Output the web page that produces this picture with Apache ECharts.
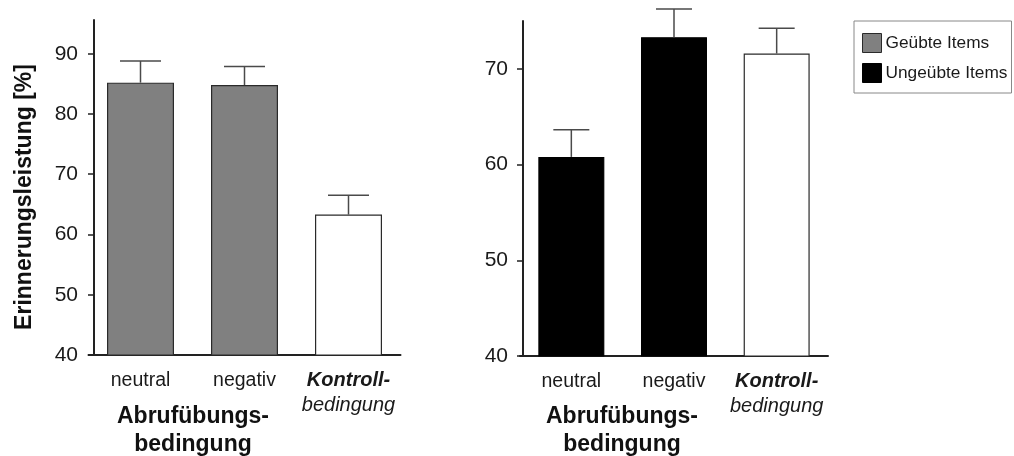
<!DOCTYPE html>
<html>
<head>
<meta charset="utf-8">
<script src="https://cdn.jsdelivr.net/npm/echarts@6/dist/echarts.min.js"></script>
<style>
  html, body { margin: 0; padding: 0; background: #fff; }
  #chart { width: 1014px; height: 456px; }
</style>
</head>
<body>
<div id="chart"></div>
<script>
// Recall performance (%) by retrieval-practice condition
const categories = ['neutral', 'negativ', 'Kontroll-\nbedingung'];

// Practiced items (left panel)
const practicedMeans = [85.2, 84.8, 63.3];
const practicedErr = [3.6, 3.1, 3.2];

// Unpracticed items (right panel)
const unpracticedMeans = [60.8, 73.3, 71.6];
const unpracticedErr = [2.85, 2.95, 2.65];

const leftTicks = [40, 50, 60, 70, 80, 90];
const rightTicks = [40, 50, 60, 70];

const GREY = '#808080';
const BLACK = '#000000';
const WHITE = '#ffffff';
const FONT = '"Liberation Sans", Arial, sans-serif';
const TEXT = '#1a1a1a';

// the control condition is drawn as a white bar in both panels
function barItems(values, color, border) {
  return values.map((v, i) => ({
    value: v,
    itemStyle: i === 2 ? { color: WHITE, borderColor: '#2a2a2a' } : { color, borderColor: border }
  }));
}

function errorItems(values, errs) {
  return values.map((v, i) => [i, v, v + errs[i]]);
}

function errorRenderer(capWidth) {
  return function (params, api) {
    const base = api.coord([api.value(0), api.value(1)]);
    const top = api.coord([api.value(0), api.value(2)]);
    const style = { stroke: '#4a4a4a', lineWidth: 1.5 };
    return {
      type: 'group',
      children: [
        { type: 'line', shape: { x1: base[0], y1: base[1], x2: top[0], y2: top[1] }, style },
        { type: 'line', shape: { x1: top[0] - capWidth / 2, y1: top[1], x2: top[0] + capWidth / 2, y2: top[1] }, style }
      ]
    };
  };
}

const catLabel = {
  interval: 0,
  fontFamily: FONT,
  fontSize: 19.5,
  color: TEXT,
  margin: 13,
  lineHeight: 25,
  verticalAlign: 'top',
  formatter: function (v) {
    if (v.indexOf('Kontroll') === 0) {
      return '{k|Kontroll-}\n{b|bedingung}';
    }
    return v;
  },
  rich: {
    k: { fontFamily: FONT, fontSize: 20, fontStyle: 'italic', fontWeight: 'bold', color: TEXT, lineHeight: 25 },
    b: { fontFamily: FONT, fontSize: 20, fontStyle: 'italic', color: TEXT, lineHeight: 25 }
  }
};

const axisLineStyle = { lineStyle: { color: '#222', width: 2 } };

function yAxisCfg(gridIndex, max, ticks, offset, margin) {
  return {
    type: 'value',
    gridIndex,
    min: 40,
    max,
    offset,
    splitLine: { show: false },
    axisLine: { show: true, ...axisLineStyle },
    axisTick: { show: true, length: 6, customValues: ticks, lineStyle: { color: '#222', width: 1.5 } },
    axisLabel: { customValues: ticks, fontFamily: FONT, fontSize: 21, color: TEXT, margin }
  };
}

function xAxisCfg(gridIndex) {
  return {
    type: 'category',
    gridIndex,
    data: categories,
    axisLine: { show: true, ...axisLineStyle },
    axisTick: { show: false },
    axisLabel: catLabel
  };
}

const boldName = { fontFamily: FONT, fontSize: 23, fontWeight: 'bold', fill: '#111' };

const option = {
  backgroundColor: '#fff',
  animation: false,
  grid: [
    { left: 88.5, top: 20, width: 312, height: 335 },
    { left: 520, top: 21, width: 308, height: 335 }
  ],
  xAxis: [xAxisCfg(0), xAxisCfg(1)],
  yAxis: [
    yAxisCfg(0, 95.6, leftTicks, -5.5, 16),
    yAxisCfg(1, 75, rightTicks, -3, 15)
  ],
  legend: {
    data: ['Geübte Items', 'Ungeübte Items'],
    orient: 'vertical',
    left: 854,
    top: 21,
    padding: [12, 4, 10, 8],
    itemGap: 10,
    itemWidth: 19,
    itemHeight: 19,
    itemStyle: { borderWidth: 1 },
    borderColor: '#888',
    borderWidth: 1,
    icon: 'rect',
    textStyle: { fontFamily: FONT, fontSize: 17.3, color: TEXT, padding: [0, 0, 0, -1] }
  },
  series: [
    {
      name: 'Geübte Items',
      type: 'bar',
      xAxisIndex: 0,
      yAxisIndex: 0,
      barWidth: 67,
      itemStyle: { color: GREY, borderColor: '#2a2a2a', borderWidth: 1.2 },
      data: barItems(practicedMeans, GREY, '#2a2a2a')
    },
    {
      name: 'Ungeübte Items',
      type: 'bar',
      xAxisIndex: 1,
      yAxisIndex: 1,
      barWidth: 66,
      itemStyle: { color: BLACK, borderColor: '#000', borderWidth: 1.2 },
      data: barItems(unpracticedMeans, BLACK, '#000')
    },
    {
      type: 'custom',
      xAxisIndex: 0,
      yAxisIndex: 0,
      clip: false,
      z: 3,
      renderItem: errorRenderer(41),
      data: errorItems(practicedMeans, practicedErr)
    },
    {
      type: 'custom',
      xAxisIndex: 1,
      yAxisIndex: 1,
      clip: false,
      z: 3,
      renderItem: errorRenderer(36),
      data: errorItems(unpracticedMeans, unpracticedErr)
    }
  ],
  graphic: [
    {
      type: 'text',
      x: 25,
      y: 197,
      rotation: Math.PI / 2,
      style: {
        text: 'Erinnerungsleistung [%]',
        fontFamily: FONT,
        fontSize: 23,
        fontWeight: 'bold',
        fill: '#111',
        align: 'center',
        verticalAlign: 'middle'
      }
    },
    {
      type: 'text',
      x: 193,
      y: 403,
      style: { text: 'Abrufübungs-\nbedingung', ...boldName, align: 'center', verticalAlign: 'top', lineHeight: 28 }
    },
    {
      type: 'text',
      x: 622,
      y: 403,
      style: { text: 'Abrufübungs-\nbedingung', ...boldName, align: 'center', verticalAlign: 'top', lineHeight: 28 }
    }
  ]
};

const chart = echarts.init(document.getElementById('chart'), null, { renderer: 'canvas' });
chart.setOption(option);
</script>
</body>
</html>
